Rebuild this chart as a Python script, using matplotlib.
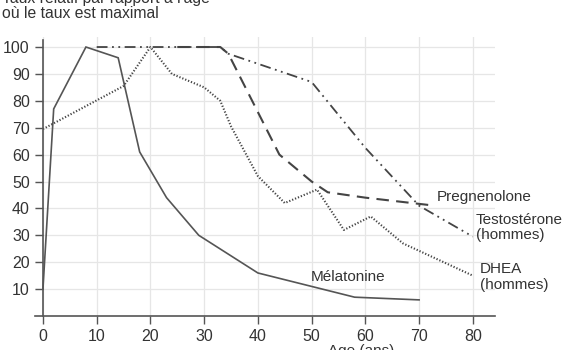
import matplotlib.pyplot as plt

plt.rcParams['font.family'] = ['Liberation Sans', 'DejaVu Sans']

# Valeurs (âge en ans, taux relatif en %)
melatonine_age = [0, 2, 8, 14, 18, 23, 29, 40, 58, 70]
melatonine_val = [10, 77, 100, 96, 61, 44, 30, 16, 7, 6]

dhea_age = [0, 15, 20, 24, 30, 33, 35, 40, 45, 51, 56, 61, 67, 80]
dhea_val = [69.5, 85.5, 100, 90, 85, 80, 70.5, 52, 42, 47, 32, 37, 27, 15]

pregnenolone_age = [25, 33, 34.5, 44, 50, 53, 60, 73]
pregnenolone_val = [100, 100, 97.5, 60, 50, 46, 44, 41]

testosterone_age = [10, 33, 34.5, 50, 60, 70, 80]
testosterone_val = [100, 100, 97.5, 87, 62.5, 41, 29.5]

x_ticks = [0, 10, 20, 30, 40, 50, 60, 70, 80]
y_ticks = [10, 20, 30, 40, 50, 60, 70, 80, 90, 100]

fig = plt.figure(figsize=(5.7, 3.5), dpi=100)
ax = fig.add_axes([0.0612, 0.0971, 0.807, 0.797])

txt = '#333333'

ax.plot(melatonine_age, melatonine_val, color='#555555', lw=1.2, solid_joinstyle='miter')
ax.plot(dhea_age, dhea_val, color='#444444', lw=1.5, linestyle=(0, (0.6, 0.9)))
ax.plot(pregnenolone_age, pregnenolone_val, color='#444444', lw=1.5, linestyle=(0, (6, 3.5)))
ax.plot(testosterone_age, testosterone_val, color='#444444', lw=1.3,
        linestyle=(0, (6, 2.5, 1, 2.5, 1, 2.5)))

ax.set_xlim(-1.5, 84.1)
ax.set_ylim(0, 103.7)
ax.set_xticks(x_ticks)
ax.set_yticks(y_ticks)
ax.grid(True, color='#e6e6e6', lw=0.9)
ax.set_axisbelow(True)

for s in ['top', 'right']:
    ax.spines[s].set_visible(False)
ax.spines['left'].set_position(('data', 0))
ax.spines['left'].set_bounds(0, 102.5)
ax.spines['left'].set_color('#555555')
ax.spines['bottom'].set_color('#555555')
ax.spines['left'].set_linewidth(1.2)
ax.spines['bottom'].set_linewidth(1.2)
ax.tick_params(colors='#555555', labelcolor=txt, labelsize=11.5, length=6, width=1)

ax.text(73.3, 44.2, 'Pregnenolone', fontsize=11, color=txt, va='center', ha='left')
ax.text(80.6, 33, 'Testostérone\n(hommes)', fontsize=11, color=txt, va='center', ha='left',
        linespacing=1.1)
ax.text(81.3, 14.5, 'DHEA\n(hommes)', fontsize=11, color=txt, va='center', ha='left',
        linespacing=1.1)
ax.text(49.9, 14.5, 'Mélatonine', fontsize=11, color=txt, va='center', ha='left')

fig.text(0.004, 0.992, "Taux relatif par rapport à l'âge", fontsize=11.3, color=txt, va='baseline')
fig.text(0.004, 0.9486, 'où le taux est maximal', fontsize=11.3, color=txt, va='baseline')
fig.text(328 / 570, 0.018, 'Age (ans)', fontsize=11, color=txt, va='top', ha='left')

fig.savefig('out.png', dpi=100)
